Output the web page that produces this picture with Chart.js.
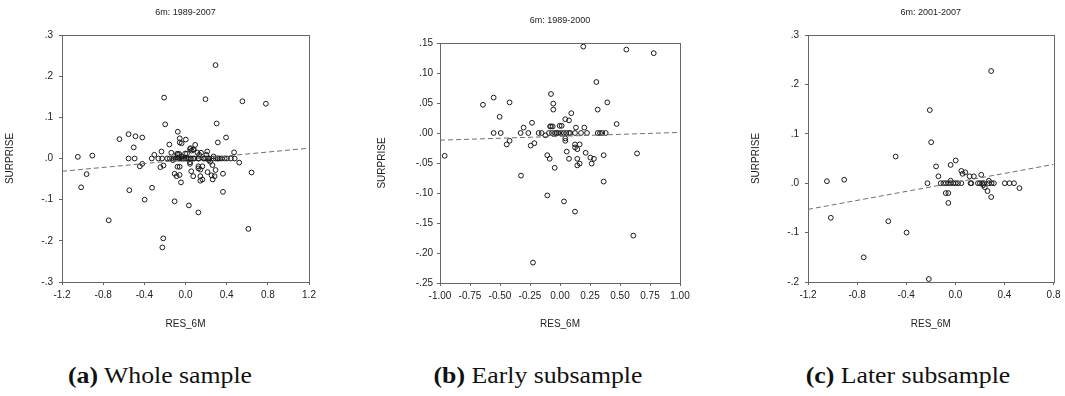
<!DOCTYPE html>
<html>
<head>
<meta charset="utf-8">
<script src="https://cdn.jsdelivr.net/npm/chart.js@4/dist/chart.umd.min.js"></script>
<style>
  html, body { margin: 0; padding: 0; background: #fff; }
  body { width: 1065px; height: 396px; position: relative; overflow: hidden; }
  canvas { position: absolute; top: 0; }
  .cap { position: absolute; top: 363px; font-family: "Liberation Serif", serif; font-size: 23px; color: #111; white-space: nowrap; transform: translateX(-50%) scaleX(1.12); }
  .cap b { font-weight: bold; }
</style>
</head>
<body>
<canvas id="chartA" width="340" height="340" style="left:0px"></canvas>
<canvas id="chartB" width="340" height="340" style="left:360px"></canvas>
<canvas id="chartC" width="345" height="340" style="left:720px"></canvas>
<div class="cap" style="left:160px"><b>(a)</b> Whole sample</div>
<div class="cap" style="left:538px"><b>(b)</b> Early subsample</div>
<div class="cap" style="left:908px"><b>(c)</b> Later subsample</div>
<script>
// early subsample 1989-2000: [RES_6M, SURPRISE]
var earlyPoints = [
  [-0.961,-0.038],[-0.642,0.047],[-0.553,0.059],[-0.553,0],[-0.503,0.027],[-0.494,0],
  [-0.42,0.051],[-0.444,-0.019],[-0.42,-0.013],[-0.328,0],[-0.325,-0.071],[-0.303,0.009],
  [-0.264,0],[-0.233,0.017],[-0.244,-0.021],[-0.214,-0.017],[-0.225,-0.216],[-0.178,0],
  [-0.153,0],[-0.122,-0.004],[-0.092,0],[-0.067,0],[-0.042,0],[-0.028,0],[-0.014,0],
  [0.008,0],[0.031,0],[0.053,0],[0.075,0],[0.086,0],[0.125,0],[0.175,0],[0.225,0],
  [0.314,0],[0.333,0],[0.353,0],[0.381,0],[-0.075,0.065],[-0.056,0.049],[-0.056,0.039],
  [-0.083,0.011],[-0.075,0.011],[-0.061,0.011],[-0.003,0.012],[0.014,0.012],
  [-0.106,-0.037],[-0.086,-0.043],[-0.106,-0.104],[-0.044,-0.058],[0.033,-0.114],
  [0.044,0.023],[0.044,-0.009],[0.044,-0.013],[0.056,-0.031],[0.075,0.021],[0.094,0.033],
  [0.075,-0.043],[0.125,-0.131],[0.125,-0.019],[0.125,-0.024],[0.133,0.009],
  [0.144,-0.027],[0.144,-0.043],[0.144,-0.054],[0.164,-0.019],[0.164,-0.051],
  [0.194,0.144],[0.203,0.009],[0.214,-0.033],[0.253,-0.041],[0.264,-0.051],
  [0.283,-0.043],[0.303,0.085],[0.314,0.039],[0.364,-0.037],[0.364,-0.081],
  [0.394,0.051],[0.472,0.015],[0.553,0.139],[0.611,-0.171],[0.642,-0.034],[0.781,0.133]
];
// later subsample 2001-2007
var laterPoints = [
  [-1.046,0.004],[-0.905,0.007],[-1.014,-0.070],[-0.746,-0.150],[-0.546,-0.077],
  [-0.486,0.054],[-0.397,-0.100],[-0.216,-0.194],[-0.208,0.148],[-0.197,0.083],
  [-0.227,0],[-0.157,0.034],[-0.138,0.014],[-0.119,0],[-0.097,0],[-0.078,0],[-0.057,0],
  [-0.038,0],[-0.016,0],[0.003,0],[0.022,0],[0.049,0],[0.124,0],[0.13,0],[0.184,0],
  [0.2,0],[0.219,0],[0.232,0],[0.273,0],[0.295,0],[0.314,0],[0.403,0],[0.441,0],[0.478,0],
  [-0.038,0.037],[0.003,0.046],[-0.038,0.005],[-0.078,-0.020],[-0.057,-0.020],
  [-0.057,-0.040],[0.049,0.025],[0.059,0.019],[0.081,0.022],[0.116,0.014],[0.151,0.014],
  [0.211,0.017],[0.227,-0.004],[0.24,-0.008],[0.262,-0.016],[0.273,0.005],
  [0.292,-0.028],[0.292,0.227],[0.522,-0.010]
];
var wholePoints = earlyPoints.concat(laterPoints);

// fitted lines (end values)
var fitA = [[-1.2,-0.031],[1.2,0.025]];
var fitB = [[-1.0,-0.012],[1.0,0.001]];
var fitC = [[-1.2,-0.053],[0.8,0.038]];

var titles = ['6m: 1989-2007', '6m: 1989-2000', '6m: 2001-2007'];

var xTicksA = [-1.2,-0.8,-0.4,0,0.4,0.8,1.2];
var xLabelsA = ['-1.2','-0.8','-0.4','0.0','0.4','0.8','1.2'];
var yTicksA = [-0.3,-0.2,-0.1,0,0.1,0.2,0.3];
var yLabelsA = ['-.3','-.2','-.1','.0','.1','.2','.3'];

var xTicksB = [-1,-0.75,-0.5,-0.25,0,0.25,0.5,0.75,1];
var xLabelsB = ['-1.00','-0.75','-0.50','-0.25','0.00','0.25','0.50','0.75','1.00'];
var yTicksB = [-0.25,-0.2,-0.15,-0.1,-0.05,0,0.05,0.1,0.15];
var yLabelsB = ['-.25','-.20','-.15','-.10','-.05','.00','.05','.10','.15'];

var xTicksC = [-1.2,-0.8,-0.4,0,0.4,0.8];
var xLabelsC = ['-1.2','-0.8','-0.4','0.0','0.4','0.8'];
var yTicksC = [-0.2,-0.1,0,0.1,0.2,0.3];
var yLabelsC = ['-.2','-.1','.0','.1','.2','.3'];

var frameColor = '#666';
var font = { family: 'Liberation Sans, Arial, sans-serif', size: 10 };

var framePlugin = {
  id: 'frame',
  afterDraw: function(chart) {
    var a = chart.chartArea, ctx = chart.ctx;
    ctx.save();
    ctx.strokeStyle = frameColor;
    ctx.lineWidth = 1;
    ctx.strokeRect(Math.round(a.left) + 0.5, Math.round(a.top) + 0.5,
                   Math.round(a.right - a.left), Math.round(a.bottom - a.top));
    ctx.restore();
  }
};

function toXY(arr) { return arr.map(function(p) { return { x: p[0], y: p[1] }; }); }

function makeChart(id, o) {
  var ctx = document.getElementById(id).getContext('2d');
  return new Chart(ctx, {
    type: 'scatter',
    data: {
      datasets: [{
        data: toXY(o.points),
        pointStyle: 'circle',
        pointRadius: 2.4,
        pointBorderWidth: 1,
        borderColor: '#1a1a1a',
        backgroundColor: 'rgba(0,0,0,0)',
        order: 2
      }, {
        type: 'line',
        data: toXY(o.fit),
        borderColor: '#6f6f6f',
        borderWidth: 1,
        borderDash: [5, 3],
        pointRadius: 0,
        fill: false,
        order: 1
      }]
    },
    options: {
      responsive: false,
      animation: false,
      devicePixelRatio: 1,
      layout: { padding: { left: 0, right: o.padRight, top: 0, bottom: 0 } },
      plugins: {
        legend: { display: false },
        tooltip: { enabled: false },
        title: {
          display: true,
          text: o.title,
          fullSize: false,
          color: '#222',
          font: { family: font.family, size: 9, weight: 'normal', lineHeight: 1.2 },
          padding: { top: o.titleTop, bottom: o.plotTop - o.titleTop - 10.8 }
        }
      },
      scales: {
        x: {
          type: 'linear',
          min: o.xTicks[0],
          max: o.xTicks[o.xTicks.length - 1],
          afterBuildTicks: function(s) { s.ticks = o.xTicks.map(function(v) { return { value: v }; }); },
          afterFit: function(s) { s.height = 340 - o.plotBottom; },
          grid: { display: true, drawOnChartArea: false, drawTicks: true, tickLength: 3, color: frameColor },
          border: { display: true, color: frameColor },
          ticks: {
            autoSkip: false, maxRotation: 0, padding: 4.5, color: '#222', font: font,
            callback: function(v, i) { return o.xLabels[i]; }
          },
          title: { display: true, text: 'RES_6M', color: '#222', font: font, padding: { top: 0, bottom: 10 } }
        },
        y: {
          type: 'linear',
          min: o.yTicks[0],
          max: o.yTicks[o.yTicks.length - 1],
          afterBuildTicks: function(s) { s.ticks = o.yTicks.map(function(v) { return { value: v }; }); },
          afterFit: function(s) { s.width = o.plotLeft; },
          grid: { display: true, drawOnChartArea: false, drawTicks: true, tickLength: 3, color: frameColor },
          border: { display: true, color: frameColor },
          ticks: {
            autoSkip: false, padding: o.yPad, color: '#222', font: font,
            callback: function(v, i) { return o.yLabels[i]; }
          },
          title: { display: true, text: 'SURPRISE', color: '#222', font: font, padding: { top: o.yTitlePad, bottom: 0 } }
        }
      }
    },
    plugins: [framePlugin]
  });
}

makeChart('chartA', {
  points: wholePoints, fit: fitA, title: titles[0],
  xTicks: xTicksA, xLabels: xLabelsA, yTicks: yTicksA, yLabels: yLabelsA,
  plotLeft: 62, padRight: 31, plotTop: 35, plotBottom: 282, titleTop: 7, yPad: 6, yTitlePad: 4
});
makeChart('chartB', {
  points: earlyPoints, fit: fitB, title: titles[1],
  xTicks: xTicksB, xLabels: xLabelsB, yTicks: yTicksB, yLabels: yLabelsB,
  plotLeft: 80, padRight: 20, plotTop: 43, plotBottom: 283, titleTop: 15, yPad: 4, yTitlePad: 16
});
makeChart('chartC', {
  points: laterPoints, fit: fitC, title: titles[2],
  xTicks: xTicksC, xLabels: xLabelsC, yTicks: yTicksC, yLabels: yLabelsC,
  plotLeft: 88, padRight: 10, plotTop: 35, plotBottom: 282, titleTop: 7, yPad: 6, yTitlePad: 30
});
</script>
</body>
</html>
